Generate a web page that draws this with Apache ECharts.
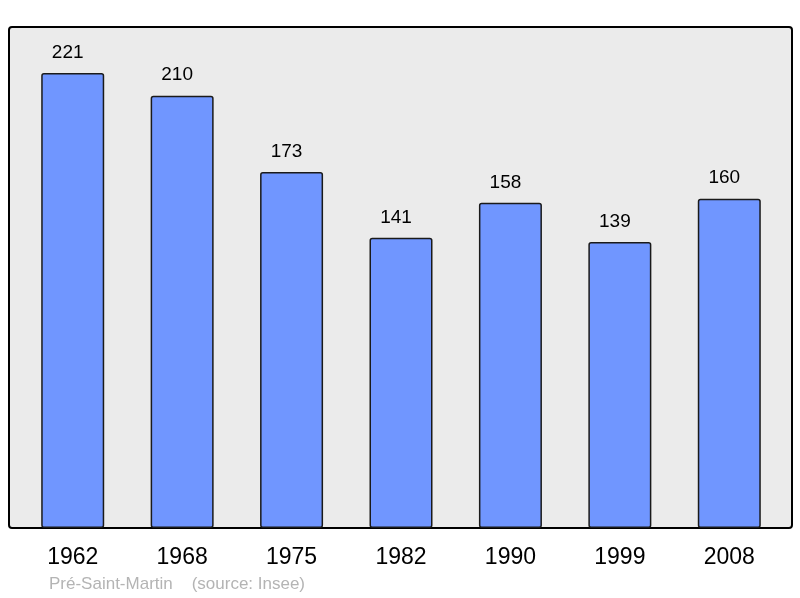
<!DOCTYPE html>
<html><head><meta charset="utf-8">
<script src="https://cdn.jsdelivr.net/npm/echarts@6/dist/echarts.min.js"></script>
<style>html,body{margin:0;padding:0;background:#fff}#c{width:800px;height:598px}</style>
</head><body><div id="c"></div>
<script>
const categories = ['1962','1968','1975','1982','1990','1999','2008'];
const population = [221, 210, 173, 141, 158, 139, 160];
const footerText = 'Pré-Saint-Martin    (source: Insee)';

const chart = echarts.init(document.getElementById('c'), null, {renderer:'canvas'});
chart.setOption({
  animation: false,
  backgroundColor: '#ffffff',
  graphic: [
    {type:'rect', z:-10, shape:{x:9, y:27, width:783, height:501, r:3},
     style:{fill:'#ebebeb', stroke:'#000', lineWidth:2}},
    {type:'text', left:49, top:576, style:{text:footerText, fill:'#b4b4b4', font:'17px "Liberation Sans", Arial, sans-serif'}}
  ],
  grid: {left:18, right:16, top:27, bottom:70},
  xAxis: {type:'category', data:categories,
    axisLine:{show:false}, axisTick:{show:false},
    axisLabel:{color:'#000', fontSize:23, fontFamily:'Liberation Sans', margin:18}},
  yAxis: {type:'value', min:0, max:243.4, show:false, splitLine:{show:false}},
  series: [{type:'bar', data:population, barWidth:63,
    itemStyle:{color:'#7096ff', borderColor:'#1a1a1a', borderWidth:1.5, borderRadius:2},
    label:{show:true, position:'top', distance:11, offset:[-5,0], color:'#000', fontSize:19, fontFamily:'Liberation Sans'}}]
});
</script></body></html>
